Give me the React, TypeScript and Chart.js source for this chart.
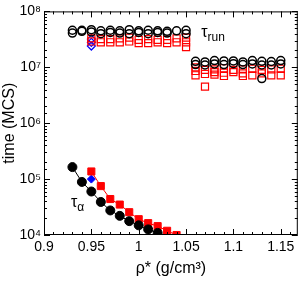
import React, { useEffect, useRef } from "react";
import { Chart, registerables } from "chart.js";

Chart.register(...registerables);

// tau_alpha series
const alphaBlackX = [0.93, 0.94, 0.95, 0.96, 0.97, 0.98, 0.99, 1.0, 1.01, 1.02];
const alphaBlackY = [1.64e5, 8.9e4, 6.0e4, 3.9e4, 2.75e4, 2.2e4, 1.77e4, 1.49e4, 1.26e4, 1.09e4];
const alphaRedX = [0.95, 0.96, 0.97, 0.98, 0.99, 1.0, 1.01, 1.02, 1.03, 1.04];
const alphaRedY = [1.37e5, 7.5e4, 4.4e4, 3.5e4, 2.56e4, 1.92e4, 1.63e4, 1.44e4, 1.19e4, 1.0e4];
const alphaBlueX = [0.95];
const alphaBlueY = [1.0e5];

// tau_run series
const runBlackX = [
  0.93, 0.93, 0.94, 0.94, 0.95, 0.95, 0.96, 0.96, 0.97, 0.97, 0.98, 0.98, 0.99, 0.99,
  1.0, 1.0, 1.01, 1.01, 1.02, 1.02, 1.03, 1.03, 1.04, 1.05, 1.05,
  1.06, 1.06, 1.07, 1.07, 1.08, 1.08, 1.09, 1.09, 1.1, 1.1, 1.11, 1.11, 1.12, 1.12,
  1.13, 1.13, 1.13, 1.14, 1.14, 1.15, 1.15,
];
const runBlackY = [
  4.6e7, 4.1e7, 4.6e7, 4.4e7, 4.7e7, 4.3e7, 4.5e7, 4.0e7, 4.6e7, 4.2e7, 4.5e7, 4.1e7, 4.7e7, 4.0e7,
  4.5e7, 4.2e7, 4.6e7, 4.0e7, 4.5e7, 4.2e7, 4.4e7, 4.1e7, 4.5e7, 4.6e7, 4.0e7,
  1.28e7, 1.12e7, 1.25e7, 1.1e7, 1.32e7, 1.15e7, 1.3e7, 1.12e7, 1.3e7, 1.16e7, 1.25e7, 1.12e7, 1.32e7, 1.15e7,
  1.28e7, 1.1e7, 6.3e6, 1.27e7, 1.1e7, 1.32e7, 1.15e7,
];
const runRedX = [
  0.95, 0.95, 0.96, 0.96, 0.97, 0.97, 0.98, 0.98, 0.99, 0.99, 1.0, 1.0, 1.01, 1.01,
  1.02, 1.02, 1.03, 1.03, 1.04, 1.04, 1.05, 1.05, 1.05,
  1.06, 1.06, 1.06, 1.07, 1.07, 1.07, 1.08, 1.08, 1.08, 1.09, 1.09, 1.09, 1.1, 1.1,
  1.11, 1.11, 1.11, 1.12, 1.12, 1.13, 1.13, 1.14, 1.14, 1.15, 1.15,
];
const runRedY = [
  3.3e7, 2.9e7, 3.2e7, 2.8e7, 3.2e7, 2.8e7, 3.3e7, 2.8e7, 3.4e7, 2.9e7, 3.1e7, 2.7e7, 3.2e7, 2.7e7,
  3.1e7, 2.8e7, 3.1e7, 2.7e7, 3.3e7, 2.8e7, 3.4e7, 2.8e7, 2.3e7,
  1.0e7, 8.6e6, 7.2e6, 9.0e6, 7.6e6, 4.5e6, 9.2e6, 8.2e6, 7.4e6, 9.6e6, 8.0e6, 7.0e6, 9.0e6, 8.2e6,
  9.2e6, 7.8e6, 7.0e6, 9.4e6, 7.2e6, 9.0e6, 7.8e6, 9.2e6, 7.2e6, 9.4e6, 7.2e6,
];
const runBlueX = [0.95, 0.95, 0.95];
const runBlueY = [3.2e7, 2.8e7, 2.4e7];

// axes
const xMin = 0.9;
const xMax = 1.168;
const yMin = 1e4;
const yMax = 1e8;
const xTickValues = [0.9, 0.95, 1.0, 1.05, 1.1, 1.15];
const xTickLabels = ["0.9", "0.95", "1", "1.05", "1.1", "1.15"];
const yTickLabels: Record<string, string> = {
  "10000": "10⁴",
  "100000": "10⁵",
  "1000000": "10⁶",
  "10000000": "10⁷",
  "100000000": "10⁸",
};
const xTitle = "ρ* (g/cm³)";
const yTitle = "time (MCS)";

const pts = (xs: number[], ys: number[]) => xs.map((x, i) => ({ x, y: ys[i] }));

const FONT = "'Liberation Sans', Arial, Helvetica, sans-serif";

const framePlugin = {
  id: "frameTicks",
  afterDraw(chart: any) {
    const { ctx, chartArea: a, scales } = chart;
    const xs = scales.x;
    const ys = scales.y;
    ctx.save();
    ctx.strokeStyle = "#000";
    ctx.lineWidth = 1;
    ctx.strokeRect(a.left + 0.5, a.top + 0.5, a.right - a.left - 1, a.bottom - a.top - 1);
    ctx.beginPath();
    // x ticks (minor every 0.01, major every 0.05)
    for (let k = 90; k <= 116; k++) {
      const v = k / 100;
      const px = Math.round(xs.getPixelForValue(v)) + 0.5;
      const major = k % 5 === 0;
      const len = major ? 6 : 3;
      ctx.moveTo(px, a.bottom);
      ctx.lineTo(px, a.bottom - len);
      ctx.moveTo(px, a.top);
      ctx.lineTo(px, a.top + len);
    }
    // y ticks
    for (const t of ys.ticks) {
      const v = t.value;
      const py = Math.round(ys.getPixelForValue(v)) + 0.5;
      const lg = Math.log10(v);
      const major = Math.abs(lg - Math.round(lg)) < 1e-9;
      const len = major ? 6 : 3;
      ctx.moveTo(a.left, py);
      ctx.lineTo(a.left + len, py);
      ctx.moveTo(a.right, py);
      ctx.lineTo(a.right - len, py);
    }
    ctx.stroke();

    // annotations
    ctx.fillStyle = "#000";
    ctx.textBaseline = "alphabetic";
    ctx.textAlign = "left";
    const lab = (x: number, y: number, sub: string) => {
      const px = xs.getPixelForValue(x);
      const py = ys.getPixelForValue(y);
      ctx.font = `16px ${FONT}`;
      ctx.fillText("τ", px, py);
      const w = ctx.measureText("τ").width;
      ctx.font = `12px ${FONT}`;
      ctx.fillText(sub, px + w, py + 4);
    };
    lab(1.066, 3.45e7, "run");
    lab(0.9285, 3.15e4, "α");
    ctx.restore();
  },
};

export default function App() {
  const ref = useRef<HTMLCanvasElement>(null);
  useEffect(() => {
    document.body.style.margin = "0";
    const chart = new Chart(ref.current!, {
      type: "scatter",
      data: {
        datasets: [
          {
            data: pts(runBlackX, runBlackY),
            pointStyle: "circle",
            pointRadius: 4,
            borderColor: "#000",
            backgroundColor: "rgba(0,0,0,0)",
            borderWidth: 1.5,
            showLine: false,
          },
          {
            data: pts(runRedX, runRedY),
            pointStyle: "rect",
            pointRadius: 5,
            borderColor: "#ff0000",
            backgroundColor: "rgba(0,0,0,0)",
            borderWidth: 1.2,
            showLine: false,
          },
          {
            data: pts(runBlueX, runBlueY),
            pointStyle: "rectRot",
            pointRadius: 4,
            borderColor: "#0000ff",
            backgroundColor: "rgba(0,0,0,0)",
            borderWidth: 1.2,
            showLine: false,
          },
          {
            data: pts(alphaBlackX, alphaBlackY),
            pointStyle: "circle",
            pointRadius: 4.5,
            borderColor: "#000",
            backgroundColor: "#000",
            borderWidth: 1,
            showLine: true,
          },
          {
            data: pts(alphaRedX, alphaRedY),
            pointStyle: "rect",
            pointRadius: 5,
            borderColor: "#ff0000",
            backgroundColor: "#ff0000",
            borderWidth: 1,
            showLine: true,
          },
          {
            data: pts(alphaBlueX, alphaBlueY),
            pointStyle: "rectRot",
            pointRadius: 4,
            borderColor: "#0000ff",
            backgroundColor: "#0000ff",
            borderWidth: 1,
            showLine: false,
          },
        ],
      },
      options: {
        animation: false,
        responsive: false,
        maintainAspectRatio: false,
        events: [],
        layout: { padding: { top: 10, right: 3, left: 0, bottom: 0 } },
        plugins: { legend: { display: false }, tooltip: { enabled: false } },
        scales: {
          x: {
            type: "linear",
            min: xMin,
            max: xMax,
            afterBuildTicks: (s: any) => {
              s.ticks = xTickValues.map((v) => ({ value: v }));
            },
            ticks: {
              autoSkip: false,
              maxRotation: 0,
              color: "#000",
              padding: 4,
              font: { family: FONT, size: 14 },
              callback: (v: any) => {
                const i = xTickValues.findIndex((t) => Math.abs(t - Number(v)) < 1e-9);
                return i >= 0 ? xTickLabels[i] : "";
              },
            },
            grid: { display: false, drawTicks: false },
            border: { display: false },
            title: {
              display: true,
              text: xTitle,
              color: "#000",
              font: { family: FONT, size: 16 },
              padding: { top: 0, bottom: 3 },
            },
            afterFit: (s: any) => {
              s.height = 46;
            },
          },
          y: {
            type: "logarithmic",
            min: yMin,
            max: yMax,
            ticks: {
              autoSkip: false,
              color: "#000",
              padding: 3,
              font: { family: FONT, size: 14 },
              callback: (v: any) => yTickLabels[String(Math.round(Number(v)))] ?? "",
            },
            grid: { display: false, drawTicks: false },
            border: { display: false },
            title: {
              display: true,
              text: yTitle,
              color: "#000",
              font: { family: FONT, size: 16 },
              padding: { top: 0, bottom: 0 },
            },
            afterFit: (s: any) => {
              s.width = 44;
            },
          },
        },
      },
      plugins: [framePlugin],
    } as any);
    return () => chart.destroy();
  }, []);
  return (
    <div style={{ position: "absolute", left: 0, top: 0, width: 304, height: 281 }}>
      <canvas ref={ref} width={304} height={281} style={{ width: 304, height: 281 }} />
    </div>
  );
}
